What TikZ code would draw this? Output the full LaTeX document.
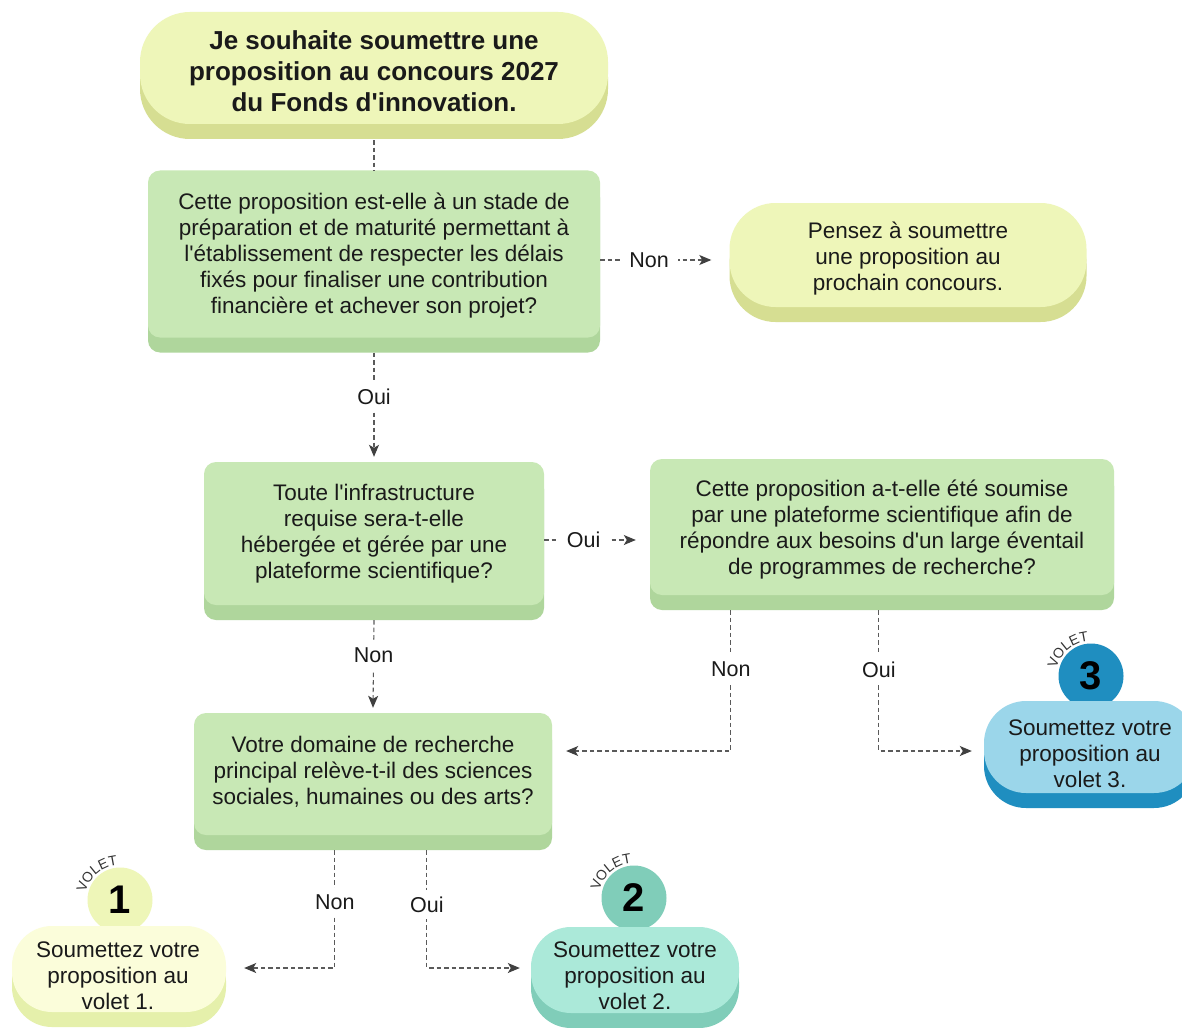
\documentclass[tikz,border=0pt]{standalone}
\usepackage{fontspec}
\setmainfont{Liberation Sans}[Ligatures=TeXOff]
\usetikzlibrary{shadows,arrows.meta,decorations.text,calc}

\definecolor{topface}{HTML}{EEF6B9}
\definecolor{topshadow}{HTML}{D6DE92}
\definecolor{qface}{HTML}{C8E8B5}
\definecolor{qshadow}{HTML}{AFD69C}
\definecolor{vonefacec}{HTML}{FBFDDA}
\definecolor{voneshadow}{HTML}{E5F0AB}
\definecolor{vonebadge}{HTML}{EEF6B8}
\definecolor{vtwoface}{HTML}{ABE9D9}
\definecolor{vtwoshadow}{HTML}{80CDB9}
\definecolor{vthreeface}{HTML}{9BD6EA}
\definecolor{vthreeshadow}{HTML}{1F8EC0}
\definecolor{linecol}{HTML}{5A5A5A}
\definecolor{tipcol}{HTML}{404040}
\definecolor{txtcol}{HTML}{1A1A1A}
\definecolor{volcol}{HTML}{333333}

\tikzset{
  qbox/.style={fill=qface, rounded corners=12pt, inner sep=0pt,
    general shadow={fill=qshadow, shadow yshift=-15pt}},
  pillbox/.style n args={3}{fill=#1, rounded corners=#3, inner sep=0pt,
    general shadow={fill=#2, shadow yshift=-15pt}},
  bodytext/.style={font=\fontsize{22.5}{26}\selectfont, align=center, inner sep=0pt, text=txtcol},
  lab/.style={fill=white, font=\fontsize{21.5}{24}\selectfont, inner xsep=9pt, inner ysep=7pt, text=txtcol},
  conn/.style={draw=linecol, line width=1.1pt, dash pattern=on 4.5pt off 3pt},
  arr/.style={conn, -{Stealth[length=12pt,width=10pt,inset=3pt,color=tipcol]}},
  badge/.style={circle, minimum size=65pt, inner sep=0pt, text=black,
    font=\bfseries\fontsize{40}{40}\selectfont},
  voletarc/.style={decorate, decoration={text along path, text align=center,
    text={|\fontsize{14}{14}\selectfont\color{volcol}|VOLET}}}
}

\begin{document}
\begin{tikzpicture}[x=1pt,y=1pt]
\useasboundingbox (0,0) rectangle (1182,-1027);
\fill[white] (0,0) rectangle (1182,-1027);
\clip (0,0) rectangle (1182,-1027);

% start
\node[pillbox={topface}{topshadow}{50pt}, minimum width=468pt, minimum height=112pt] (top) at (374,-68) {};
\node[bodytext, font=\bfseries\fontsize{26}{31}\selectfont] (toptext) at (374,-71)
  {Je souhaite soumettre une\\proposition au concours 2027\\du Fonds d'innovation.};

% question 1
\node[qbox, minimum width=452pt, minimum height=167pt] (q1) at (374,-254) {};
\node[bodytext] (q1text) at (374,-256)
  {Cette proposition est-elle à un stade de\\préparation et de maturité permettant à\\l'établissement de respecter les délais\\fixés pour finaliser une contribution\\financière et achever son projet?};

% next contest
\node[pillbox={topface}{topshadow}{46pt}, minimum width=357pt, minimum height=104pt] (pen) at (908,-255) {};
\node[bodytext] (pentext) at (908,-259)
  {Pensez à soumettre\\une proposition au\\prochain concours.};

% question 2
\node[qbox, minimum width=340pt, minimum height=143pt] (q2) at (374,-533.5) {};
\node[bodytext] (q2text) at (374,-534)
  {Toute l'infrastructure\\requise sera-t-elle\\hébergée et gérée par une\\plateforme scientifique?};

% question 3
\node[qbox, minimum width=464pt, minimum height=136pt] (q3) at (882,-527) {};
\node[bodytext] (q3text) at (882,-530)
  {Cette proposition a-t-elle été soumise\\par une plateforme scientifique afin de\\répondre aux besoins d'un large éventail\\de programmes de recherche?};

% question 4
\node[qbox, minimum width=358pt, minimum height=122pt] (q4) at (373,-774) {};
\node[bodytext] (q4text) at (373,-772)
  {Votre domaine de recherche\\principal relève-t-il des sciences\\sociales, humaines ou des arts?};

% volet 3
\node[badge, fill=vthreeshadow] (b3) at (1091,-676) {3};
\path[voletarc] ($(b3.center)+(200:35)$) arc[start angle=200, end angle=62, radius=35];
\node[pillbox={vthreeface}{vthreeshadow}{42pt}, minimum width=212pt, minimum height=92pt] (v3) at (1090,-747) {};
\node[bodytext] (v3text) at (1090,-754) {Soumettez votre\\proposition au\\volet 3.};

% volet 1
\node[badge, fill=vonebadge] (b1) at (120,-900) {1};
\path[voletarc] ($(b1.center)+(200:35)$) arc[start angle=200, end angle=62, radius=35];
\node[pillbox={vonefacec}{voneshadow}{40pt}, minimum width=214pt, minimum height=86pt] (v1) at (119,-969) {};
\node[bodytext] (v1text) at (118,-976) {Soumettez votre\\proposition au\\volet 1.};

% volet 2
\node[badge, fill=vtwoshadow] (b2) at (634,-898) {2};
\path[voletarc] ($(b2.center)+(200:35)$) arc[start angle=200, end angle=62, radius=35];
\node[pillbox={vtwoface}{vtwoshadow}{40pt}, minimum width=208pt, minimum height=86pt] (v2) at (635,-970) {};
\node[bodytext] (v2text) at (635,-976) {Soumettez votre\\proposition au\\volet 2.};

% connectors
\draw[conn] ([yshift=-16pt]top.south) -- (q1.north);
\draw[arr] ([yshift=-6pt]q1.east) -- node[lab, pos=0.44]{Non} ($(pen.west)+(-18,-5)$);
\draw[arr] ([yshift=-15pt]q1.south) -- node[lab, pos=0.42]{Oui} ([yshift=5pt]q2.north);
\draw[arr] ([yshift=-6.5pt]q2.east) -- node[lab, pos=0.43]{Oui} ($(q2.east -| q3.west)+(-14,-6.5)$);
\draw[arr] ([yshift=-15pt]q2.south) -- node[lab, pos=0.4]{Non} ([yshift=5pt]q4.north);
\draw[arr] ($(q3.south west)+(81,-15)$) |- node[lab, pos=0.21]{Non} ($(q4.east)+(14,23)$);
\draw[arr] ($(q3.south west)+(229,-15)$) |- node[lab, pos=0.21]{Oui} ($(v3.west)+(-12,-4)$);
\draw[arr] ($(q4.south west)+(141,-15)$) |- node[lab, pos=0.22]{Non} ($(v1.east)+(18,1)$);
\draw[arr] ($(q4.south west)+(233,-15)$) |- node[lab, pos=0.23]{Oui} ($(v2.west)+(-11,2)$);
\end{tikzpicture}
\end{document}
